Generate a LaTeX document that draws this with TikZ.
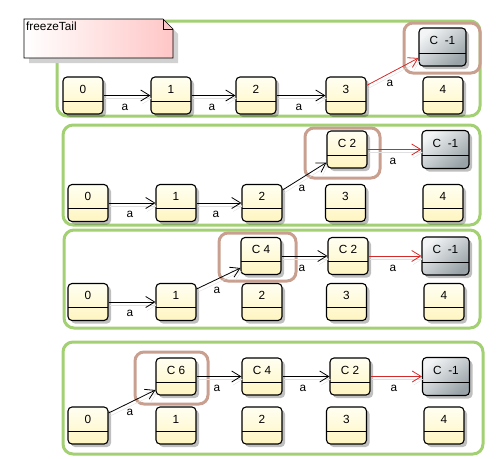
\documentclass[tikz,border=0pt]{standalone}
\usepackage{fontspec}
\setmainfont{Liberation Sans}
\usetikzlibrary{arrows.meta,shadows}
\definecolor{grn}{HTML}{A2D073}
\definecolor{brn}{HTML}{C9A090}
\definecolor{yl1}{HTML}{FFFFF2}
\definecolor{yl2}{HTML}{FFF5C0}
\definecolor{gr1}{HTML}{F2F4F5}
\definecolor{gr2}{HTML}{98A2A7}
\definecolor{rd}{HTML}{D42A2A}
\definecolor{pk}{HTML}{FFC6C6}
\begin{document}
\begin{tikzpicture}[x=1pt,y=-1pt,
  every node/.style={font=\fontsize{11.8}{14}\selectfont},
  grp/.style={draw=grn, line width=3pt, rounded corners=10pt},
  hl/.style={draw=brn, line width=3pt, rounded corners=9pt},
  state/.style={draw, line width=1.1pt, rounded corners=4pt,
    minimum width=40pt, minimum height=37pt, inner sep=0pt,
    text height=8.6pt, text depth=13.6pt,
    top color=yl1, bottom color=yl2,
    drop shadow={shadow xshift=3pt, shadow yshift=-3pt, opacity=0.25, fill=black},
    path picture={\draw[line width=0.8pt] ([yshift=13pt]path picture bounding box.south west) -- ([yshift=13pt]path picture bounding box.south east);}},
  cstate/.style={state, minimum width=47pt, minimum height=38pt,
    top color=gr1, bottom color=gr2, shading angle=40},
  arr/.style={-{Straight Barb[length=9pt,width=11pt]}, line width=0.8pt,
    preaction={draw=black!12, transform canvas={shift={(1.5pt,-3pt)}}}},
  rarr/.style={arr, draw=rd},
  lbl/.style={inner sep=1pt}
]
\useasboundingbox (0,0) rectangle (497,458);

% groups
\draw[grp] (57,21) rectangle (480,116);
\draw[grp] (63,125) rectangle (480,225);
\draw[grp] (64,230) rectangle (480,328);
\draw[grp] (63,342) rectangle (483,454);

% note
\fill[black!18] (29,24) -- (168,24) -- (178,34) -- (178,63) -- (29,63) -- cycle;
\shade[left color=white, right color=pk, draw=black, line width=0.6pt]
  (24,19) -- (163,19) -- (173,29) -- (173,58) -- (24,58) -- cycle;
\draw[line width=0.6pt] (163,19) -- (163,29) -- (173,29);
\node[anchor=north west, inner sep=1pt] (note) at (25,21) {freezeTail};

% highlights
\draw[hl] (404,23) rectangle (480,73);
\draw[hl] (305,128) rectangle (380,178);
\draw[hl] (219,233) rectangle (296,281);
\draw[hl] (135,352) rectangle (208,404);

% panel 1
\node[state] (a0) at (83,95.5) {0};
\node[state] (a1) at (171,95.5) {1};
\node[state] (a2) at (256,95.5) {2};
\node[state] (a3) at (346,95.5) {3};
\node[state] (a4) at (443,95.5) {4};
\node[cstate] (ac) at (442.5,47) {C~~-1};
\draw[arr] (a0) -- (a1);
\draw[arr] (a1) -- (a2);
\draw[arr] (a2) -- (a3);
\draw[rarr] ([yshift=10pt]a3.east) -- ([yshift=-11pt]ac.west);
\node[lbl] (la1) at (125,107) {a};
\node[lbl] (la2) at (212,107) {a};
\node[lbl] (la3) at (299,107) {a};
\node[lbl] (la4) at (390,83) {a};

% panel 2
\node[state] (b0) at (88,203) {0};
\node[state] (b1) at (176,203) {1};
\node[state] (b2) at (262,203) {2};
\node[state] (b3) at (345.5,203) {3};
\node[state] (b4) at (443,203) {4};
\node[state] (bc2) at (347,149.5) {C 2};
\node[cstate] (bc) at (445.5,149.5) {C~~-1};
\draw[arr] (b0) -- (b1);
\draw[arr] (b1) -- (b2);
\draw[arr] ([yshift=13pt]b2.east) -- ([yshift=-13pt]bc2.west);
\draw[rarr] (bc2) -- (bc);
\node[lbl] (lb1) at (130,214) {a};
\node[lbl] (lb2) at (216,214) {a};
\node[lbl] (lb3) at (302,188) {a};
\node[lbl] (lb4) at (393,161) {a};

% panel 3
\node[state] (c0) at (88,302) {0};
\node[state] (c1) at (176,302) {1};
\node[state] (c2) at (262,302) {2};
\node[state] (c3) at (346.5,302) {3};
\node[state] (c4) at (444,302) {4};
\node[state] (cc4) at (261,256) {C 4};
\node[state] (cc2) at (348,256) {C 2};
\node[cstate] (cc) at (445.5,256) {C~~-1};
\draw[arr] (c0) -- (c1);
\draw[arr] ([yshift=13pt]c1.east) -- ([yshift=-12pt]cc4.west);
\draw[arr] (cc4) -- (cc2);
\draw[rarr] (cc2) -- (cc);
\node[lbl] (lc1) at (130,313) {a};
\node[lbl] (lc2) at (217,290) {a};
\node[lbl] (lc3) at (302,268) {a};
\node[lbl] (lc4) at (393,268) {a};

% panel 4
\node[state] (d0) at (88,425.5) {0};
\node[state] (d1) at (176,425.5) {1};
\node[state] (d2) at (262,425.5) {2};
\node[state] (d3) at (346.5,425.5) {3};
\node[state] (d4) at (444,425.5) {4};
\node[state] (dc6) at (176,376.5) {C 6};
\node[state] (dc4) at (262,376.5) {C 4};
\node[state] (dc2) at (350,376.5) {C 2};
\node[cstate] (dc) at (446,376.5) {C~~-1};
\draw[arr] ([yshift=12.5pt]d0.east) -- ([yshift=-13.5pt]dc6.west);
\draw[arr] (dc6) -- (dc4);
\draw[arr] (dc4) -- (dc2);
\draw[rarr] (dc2) -- (dc);
\node[lbl] (ld1) at (130,412) {a};
\node[lbl] (ld2) at (217,388) {a};
\node[lbl] (ld3) at (303,388) {a};
\node[lbl] (ld4) at (394,388) {a};
\end{tikzpicture}
\end{document}
